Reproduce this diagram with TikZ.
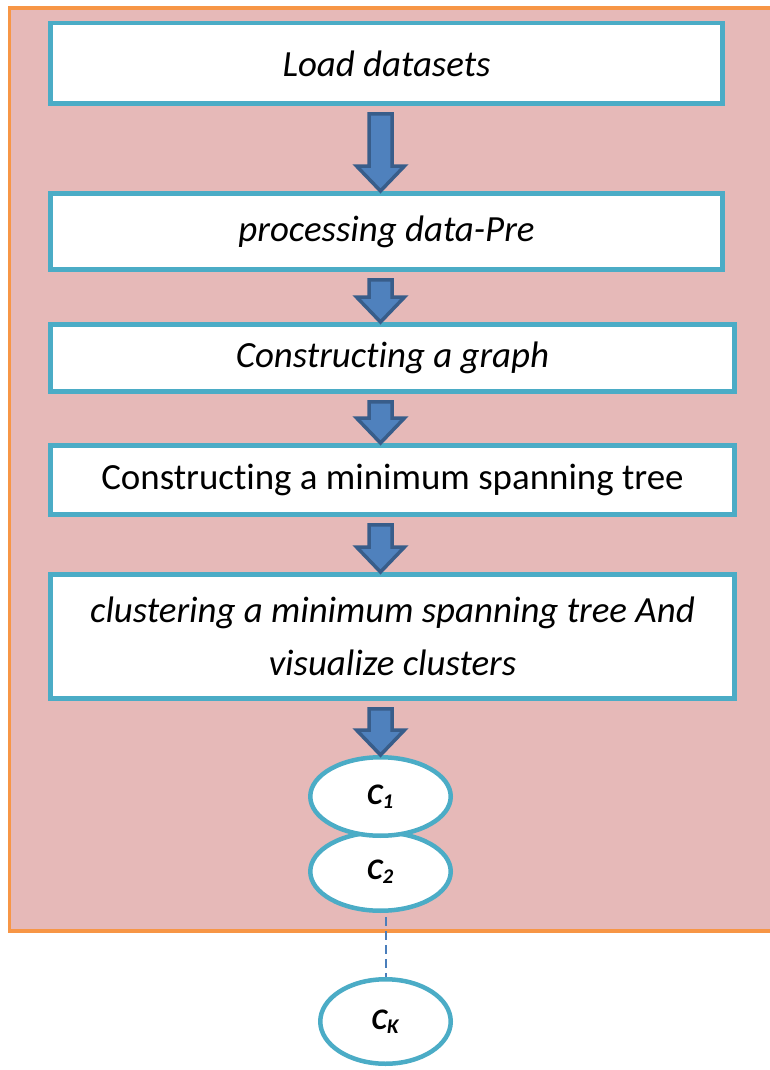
\documentclass[tikz,border=0pt]{standalone}
\usepackage{fontspec}
\setmainfont{Carlito}[Ligatures=NoCommon]
\usetikzlibrary{calc,shapes.geometric}

\definecolor{bgpink}{HTML}{E6B9B8}
\definecolor{bgorange}{HTML}{F79646}
\definecolor{boxteal}{HTML}{4BACC6}
\definecolor{arrowfill}{HTML}{4F81BD}
\definecolor{arrowline}{HTML}{385D8A}
\definecolor{dashblue}{HTML}{4A7EBB}

\tikzset{
  stepbox/.style={draw=boxteal, line width=0.09cm, fill=white, align=center, inner sep=0pt,
    font=\fontsize{21}{30}\selectfont\itshape},
  cluster/.style={ellipse, draw=boxteal, line width=0.09cm, fill=white, inner sep=0pt,
    minimum width=2.81cm, minimum height=1.57cm, font=\fontsize{17}{19}\selectfont\bfseries\itshape},
  blockarrow/.style={fill=arrowfill, draw=arrowline, line width=0.07cm, line join=miter},
  dashlink/.style={dashblue, line width=0.04cm, dash pattern=on 0.18cm off 0.1cm},
}

\begin{document}
\begin{tikzpicture}[x=0.02cm, y=-0.02cm]
  \useasboundingbox (0,0) rectangle (769,1070);
  % pink panel behind the flow
  \draw[bgorange, fill=bgpink, line width=0.08cm] (9.5,8) rectangle (800,931);

  % steps
  \node[stepbox, minimum width=13.45cm, minimum height=1.61cm] (load) at (386.5,63.5) {Load datasets};
  \node[stepbox, minimum width=13.45cm, minimum height=1.53cm] (pre) at (386.5,231.5) {processing data-Pre};
  \node[stepbox, minimum width=13.69cm, minimum height=1.35cm] (graph) at (392.5,358) {Constructing a graph};
  \node[stepbox, minimum width=13.69cm, minimum height=1.39cm, font=\fontsize{21}{30}\selectfont] (mst) at (392.5,480) {Constructing a minimum spanning tree};
  \node[stepbox, minimum width=13.69cm, minimum height=2.49cm] (clust) at (392.5,636.5) {clustering a minimum spanning tree And\\visualize clusters};

  % clusters (C1 lies over C2)
  \node[cluster] (c2) at (380.5,871.5) {C\textsubscript{2}};
  \node[cluster] (c1) at (380.5,796.5) {C\textsubscript{1}};
  \node[cluster, minimum width=2.61cm, minimum height=1.69cm] (ck) at (385.5,1021.5) {C\textsubscript{K}};
  \draw[dashlink] (c2.south -| ck.north) ++(0,-0.08cm) -- (ck.north);

  % block arrows between the steps
  \foreach \a/\b in {load/pre, pre/graph, graph/mst, mst/clust, clust/c1}
    \draw[blockarrow] let \p1=(\a.south), \p2=(\b.north), \p3=(c1.center) in
      (\x3-0.23cm,\y1-0.16cm) -- (\x3+0.23cm,\y1-0.16cm) -- (\x3+0.23cm,\y2+0.5cm)
      -- (\x3+0.48cm,\y2+0.5cm) -- (\x3,\y2) -- (\x3-0.48cm,\y2+0.5cm)
      -- (\x3-0.23cm,\y2+0.5cm) -- cycle;
\end{tikzpicture}
\end{document}
